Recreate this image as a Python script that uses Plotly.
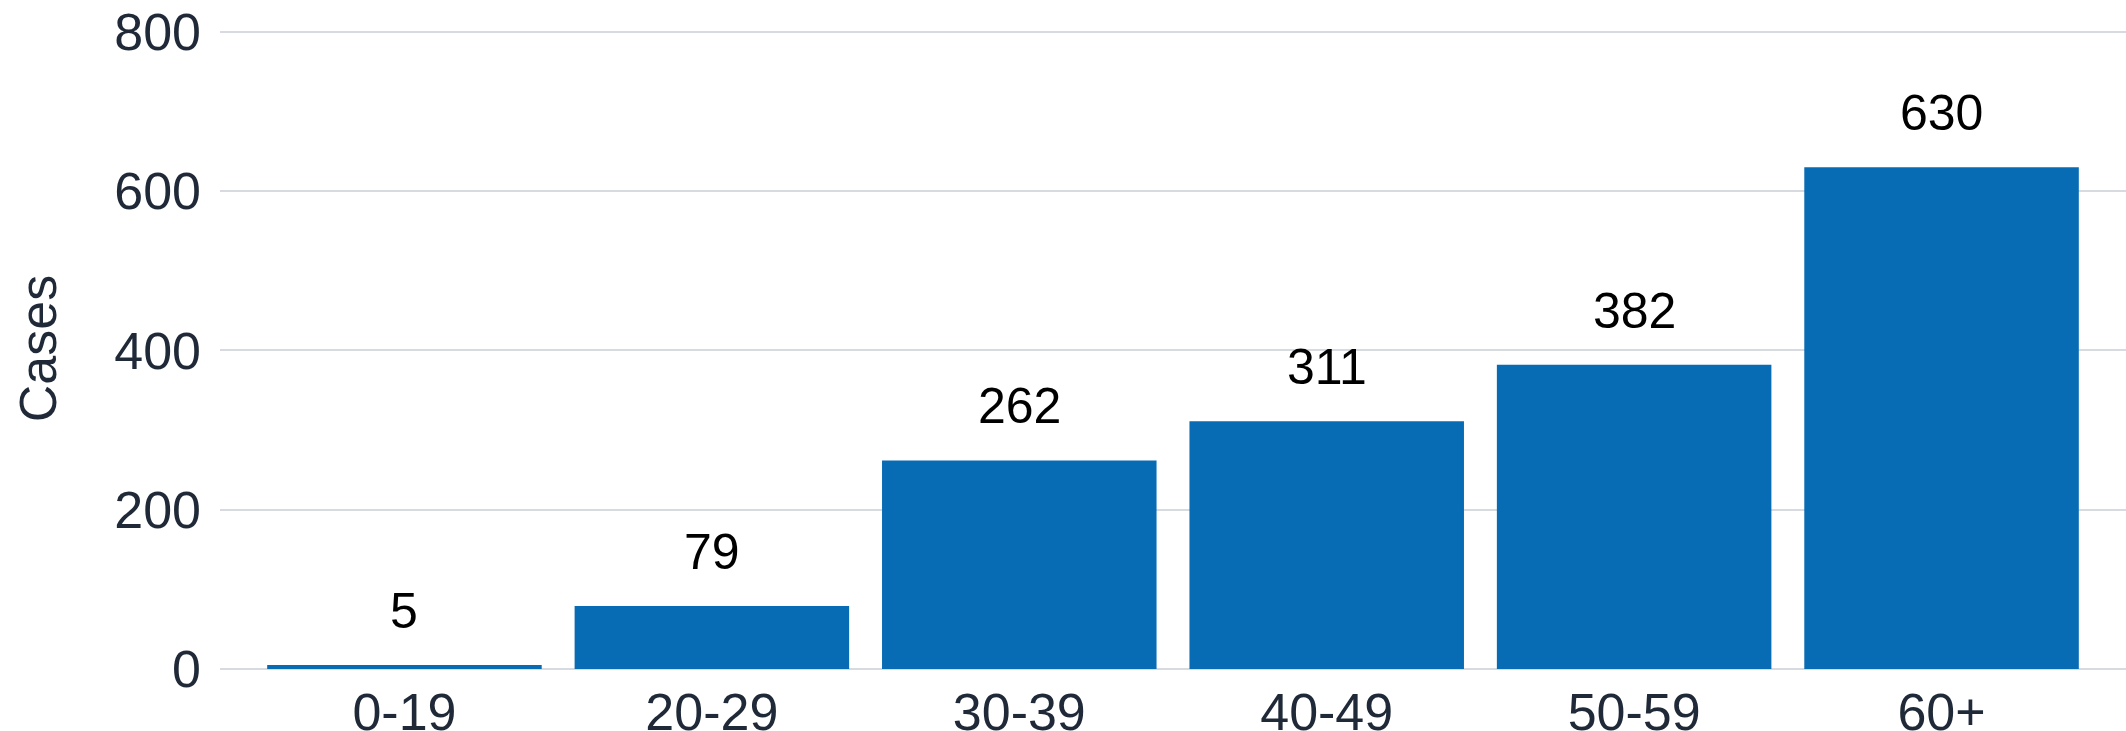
import plotly.graph_objects as go

categories = ["0-19", "20-29", "30-39", "40-49", "50-59", "60+"]
cases = [5, 79, 262, 311, 382, 630]
y_ticks = [0, 200, 400, 600, 800]

BAR_COLOR = "#076cb4"
TICK_COLOR = "#1f2937"
GRID_COLOR = "#d7dade"
FONT = "Arial, Liberation Sans, sans-serif"

fig = go.Figure()
fig.add_trace(go.Bar(
    x=categories,
    y=cases,
    marker=dict(color=BAR_COLOR, line=dict(width=0)),
    hoverinfo="x+y",
))

for c, v in zip(categories, cases):
    fig.add_annotation(
        x=c, y=v, text=str(v), showarrow=False,
        xanchor="center", yanchor="bottom", yshift=24,
        font=dict(family=FONT, size=50, color="#000000"),
    )

fig.update_layout(
    width=2126, height=731,
    margin=dict(l=220, r=0, t=28, b=62),
    paper_bgcolor="white", plot_bgcolor="white",
    bargap=0.107,
    showlegend=False,
    font=dict(family=FONT, size=52, color=TICK_COLOR),
)
fig.update_xaxes(
    range=[-0.6, 5.6], automargin=False,
    showgrid=False, showline=False, zeroline=False, ticks="",
    ticklabelstandoff=8,
    tickfont=dict(family=FONT, size=52, color=TICK_COLOR),
)
fig.update_yaxes(
    range=[0, 805], automargin=False,
    tickvals=y_ticks,
    showgrid=True, gridcolor=GRID_COLOR, gridwidth=2,
    zeroline=True, zerolinecolor=GRID_COLOR, zerolinewidth=2,
    showline=False, ticks="",
    ticklabelstandoff=18,
    tickfont=dict(family=FONT, size=52, color=TICK_COLOR),
    title=dict(text="Cases", font=dict(family=FONT, size=52, color=TICK_COLOR), standoff=41),
)

fig.write_html(
    "out.html",
    config={"displayModeBar": False},
    post_script="document.body.style.margin='0px';document.body.style.overflow='hidden';",
)
